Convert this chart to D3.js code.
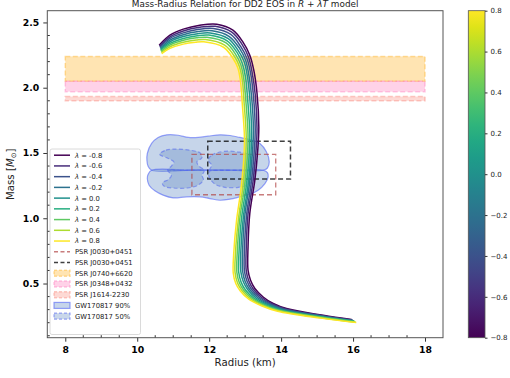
<!DOCTYPE html>
<html><head><meta charset="utf-8">
<script src="https://cdn.jsdelivr.net/npm/d3@7"></script>
<style>body{margin:0;background:#fff} svg{display:block;font-family:"DejaVu Sans",sans-serif}</style>
</head><body><svg id="c" width="510" height="378"></svg>
<script>
// ---------------- DATA ----------------
const lambdas = [-0.8,-0.6,-0.4,-0.2,0.0,0.2,0.4,0.6,0.8];
const lambdaLabels = ["-0.8","-0.6","-0.4","-0.2","0.0","0.2","0.4","0.6","0.8"];
// [Radius km, Mass Msun] for each lambda
const mr_m08 = [[10.61,2.326],[10.91,2.403],[11.28,2.449],[11.74,2.479],[12.21,2.487],[12.66,2.441],[12.94,2.349],[13.13,2.249],[13.24,2.134],[13.33,1.958],[13.38,1.698],[13.35,1.521],[13.27,1.292],[13.13,1.039],[13.08,0.778],[13.08,0.602],[13.15,0.525],[13.27,0.462],[13.50,0.397],[13.78,0.347],[14.15,0.308],[15.17,0.257],[15.96,0.224]];
const mr_m06 = [[10.62,2.318],[10.91,2.390],[11.28,2.435],[11.73,2.463],[12.17,2.470],[12.63,2.425],[12.91,2.334],[13.09,2.237],[13.19,2.124],[13.28,1.948],[13.33,1.688],[13.30,1.512],[13.22,1.282],[13.08,1.032],[13.03,0.771],[13.03,0.599],[13.10,0.522],[13.22,0.460],[13.45,0.395],[13.74,0.345],[14.12,0.306],[15.16,0.254],[15.98,0.221]];
const mr_m04 = [[10.63,2.310],[10.91,2.378],[11.28,2.420],[11.71,2.447],[12.12,2.453],[12.60,2.408],[12.87,2.318],[13.05,2.224],[13.15,2.113],[13.23,1.938],[13.28,1.679],[13.25,1.502],[13.17,1.273],[13.04,1.024],[12.98,0.764],[12.98,0.597],[13.05,0.519],[13.17,0.458],[13.40,0.393],[13.70,0.343],[14.09,0.303],[15.15,0.252],[15.99,0.218]];
const mr_m02 = [[10.64,2.302],[10.91,2.365],[11.28,2.406],[11.70,2.430],[12.08,2.436],[12.56,2.392],[12.84,2.303],[13.01,2.212],[13.10,2.103],[13.18,1.928],[13.23,1.669],[13.20,1.493],[13.12,1.263],[12.99,1.017],[12.93,0.756],[12.93,0.594],[13.00,0.516],[13.12,0.456],[13.35,0.391],[13.66,0.341],[14.06,0.301],[15.14,0.249],[16.01,0.215]];
const mr_p00 = [[10.65,2.294],[10.91,2.352],[11.28,2.392],[11.68,2.414],[12.03,2.420],[12.53,2.376],[12.80,2.288],[12.97,2.200],[13.06,2.092],[13.13,1.918],[13.18,1.659],[13.16,1.483],[13.08,1.254],[12.95,1.010],[12.88,0.749],[12.88,0.591],[12.95,0.513],[13.07,0.454],[13.30,0.389],[13.62,0.339],[14.03,0.298],[15.14,0.246],[16.03,0.213]];
const mr_p02 = [[10.65,2.286],[10.91,2.339],[11.28,2.377],[11.67,2.398],[11.99,2.403],[12.50,2.359],[12.77,2.272],[12.92,2.187],[13.01,2.082],[13.07,1.908],[13.13,1.649],[13.11,1.474],[13.03,1.244],[12.90,1.002],[12.83,0.742],[12.82,0.588],[12.89,0.509],[13.01,0.451],[13.25,0.386],[13.57,0.336],[13.99,0.296],[15.13,0.243],[16.04,0.210]];
const mr_p04 = [[10.66,2.278],[10.91,2.327],[11.28,2.363],[11.65,2.382],[11.94,2.386],[12.47,2.343],[12.73,2.257],[12.88,2.175],[12.96,2.071],[13.02,1.898],[13.08,1.640],[13.06,1.464],[12.98,1.234],[12.85,0.995],[12.78,0.735],[12.77,0.586],[12.84,0.506],[12.96,0.449],[13.20,0.384],[13.53,0.334],[13.96,0.293],[15.12,0.241],[16.06,0.207]];
const mr_p06 = [[10.67,2.270],[10.91,2.314],[11.28,2.348],[11.64,2.365],[11.90,2.369],[12.43,2.326],[12.70,2.241],[12.84,2.162],[12.92,2.061],[12.97,1.888],[13.03,1.630],[13.01,1.455],[12.93,1.225],[12.81,0.987],[12.73,0.727],[12.72,0.583],[12.79,0.503],[12.91,0.447],[13.15,0.382],[13.49,0.332],[13.93,0.291],[15.11,0.238],[16.07,0.204]];
const mr_p08 = [[10.68,2.262],[10.91,2.301],[11.28,2.334],[11.62,2.349],[11.85,2.352],[12.40,2.310],[12.66,2.226],[12.80,2.150],[12.87,2.050],[12.92,1.878],[12.98,1.620],[12.96,1.445],[12.88,1.215],[12.76,0.980],[12.68,0.720],[12.67,0.580],[12.74,0.500],[12.86,0.445],[13.10,0.380],[13.45,0.330],[13.90,0.288],[15.10,0.235],[16.09,0.201]];
const mrCurves = [mr_m08,mr_m06,mr_m04,mr_m02,mr_p00,mr_p02,mr_p04,mr_p06,mr_p08];

// Pulsar mass bands [low, high]
const bandNames = ["PSR J0740+6620","PSR J0348+0432","PSR J1614-2230"];
const bandLow  = [2.05, 1.97, 1.900];
const bandHigh = [2.24, 2.05, 1.932];
const bandRadius = [8, 18];

// NICER J0030+0451 boxes
const nicerNames = ["PSR J0030+0451","PSR J0030+0451"];
const nicerR = [[11.52,13.85],[11.96,14.26]];
const nicerM = [[1.18,1.49],[1.30,1.59]];

// GW170817 contours (R, M)
const gw90_upper = [[10.40,1.368],[10.30,1.400],[10.27,1.440],[10.28,1.496],[10.40,1.573],[10.58,1.619],[10.82,1.639],[11.14,1.636],[11.42,1.619],[11.70,1.619],[11.97,1.629],[12.30,1.639],[12.58,1.634],[12.85,1.619],[13.13,1.603],[13.41,1.573],[13.59,1.509],[13.67,1.432],[13.62,1.385],[13.50,1.368],[12.50,1.368],[11.50,1.368]];
const gw90_lower = [[10.40,1.368],[10.30,1.335],[10.28,1.304],[10.33,1.253],[10.49,1.210],[10.72,1.177],[11.00,1.156],[11.37,1.164],[11.74,1.164],[12.02,1.151],[12.30,1.138],[12.58,1.146],[12.85,1.164],[13.13,1.184],[13.36,1.215],[13.55,1.266],[13.64,1.317],[13.62,1.350],[13.50,1.368],[12.50,1.368],[11.50,1.368]];
const gw50_ul = [[10.62,1.490],[10.80,1.522],[11.10,1.530],[11.45,1.522],[11.75,1.500],[11.80,1.465],[11.66,1.432],[11.72,1.398],[11.86,1.372],[11.30,1.368],[10.85,1.370],[10.95,1.400],[11.02,1.430],[10.85,1.460]];
const gw50_ur = [[11.97,1.445],[12.07,1.483],[12.25,1.504],[12.53,1.514],[12.85,1.506],[13.08,1.491],[13.22,1.445],[13.27,1.407],[13.18,1.373],[12.67,1.368],[12.30,1.368],[12.02,1.373],[12.07,1.407]];
const gw50_ll = [[10.85,1.366],[11.30,1.366],[11.86,1.362],[11.80,1.330],[11.84,1.295],[11.70,1.255],[11.40,1.232],[11.00,1.232],[10.75,1.245],[10.70,1.270],[10.88,1.300],[10.95,1.330]];
const gw50_lr = [[12.02,1.362],[12.30,1.366],[12.67,1.366],[13.20,1.362],[13.27,1.330],[13.22,1.292],[13.08,1.255],[12.81,1.237],[12.44,1.237],[12.16,1.262],[12.02,1.304],[11.98,1.340]];

const xTicks = [8,10,12,14,16,18];
const yTicks = [0.5,1.0,1.5,2.0,2.5];
const cbTicks = [-0.8,-0.6,-0.4,-0.2,0.0,0.2,0.4,0.6,0.8];

// ---------------- DRAW ----------------
const svg = d3.select("#c");
const L=47.3, R=443, T=10.7, B=337.7;
const x = d3.scaleLinear().domain([7.5,18.5]).range([L,R]);
const y = d3.scaleLinear().domain([0.085,2.59]).range([B,T]);
const color = d3.scaleSequential(d3.interpolateViridis).domain([-0.8,0.8]);

const bandFill = ["rgba(255,165,0,0.3)","rgba(255,105,180,0.3)","rgba(250,128,114,0.3)"];
const bandStroke = ["rgba(255,165,0,0.35)","rgba(255,105,180,0.35)","rgba(250,128,114,0.4)"];
const nicerStroke = ["rgba(178,70,70,0.7)","rgba(0,0,0,0.75)"];
const nicerWidth = [1.3,1.5];
const gw90Fill = "rgba(120,155,205,0.42)", gw90Stroke = "rgba(70,90,245,0.55)";
const gw50Fill = "rgba(100,140,195,0.35)", gw50Stroke = "rgba(80,100,240,0.55)";

svg.append("defs").append("clipPath").attr("id","clip").append("rect")
  .attr("x",L).attr("y",T).attr("width",R-L).attr("height",B-T);
const plot = svg.append("g").attr("clip-path","url(#clip)");

// bands
bandNames.forEach((n,i)=>{
  plot.append("rect").attr("x",x(bandRadius[0])).attr("width",x(bandRadius[1])-x(bandRadius[0]))
    .attr("y",y(bandHigh[i])).attr("height",y(bandLow[i])-y(bandHigh[i]))
    .attr("fill",bandFill[i]).attr("stroke",bandStroke[i]).attr("stroke-width",1.5)
    .attr("stroke-dasharray","5,2.5");
});

// GW contours
const blob = d3.line().x(d=>x(d[0])).y(d=>y(d[1])).curve(d3.curveCatmullRomClosed.alpha(0.5));
[gw90_upper,gw90_lower].forEach(p=>{
  plot.append("path").attr("d",blob(p)).attr("fill",gw90Fill).attr("stroke",gw90Stroke).attr("stroke-width",1.2);
});
[gw50_ul,gw50_ur,gw50_ll,gw50_lr].forEach(p=>{
  plot.append("path").attr("d",blob(p)).attr("fill",gw50Fill).attr("stroke",gw50Stroke).attr("stroke-width",1.2)
    .attr("stroke-dasharray","4,2.5");
});

// NICER boxes
nicerNames.forEach((n,i)=>{
  plot.append("rect").attr("x",x(nicerR[i][0])).attr("width",x(nicerR[i][1])-x(nicerR[i][0]))
    .attr("y",y(nicerM[i][1])).attr("height",y(nicerM[i][0])-y(nicerM[i][1]))
    .attr("fill","none").attr("stroke",nicerStroke[i]).attr("stroke-width",nicerWidth[i])
    .attr("stroke-dasharray","5,3");
});

// M-R curves
const line = d3.line().x(d=>x(d[0])).y(d=>y(d[1])).curve(d3.curveCatmullRom.alpha(0.5));
mrCurves.forEach((c,i)=>{
  plot.append("path").attr("d",line(c)).attr("fill","none").attr("stroke",color(lambdas[i]))
    .attr("stroke-width",1.5);
});

// Axes
const xAx = svg.append("g").attr("transform",`translate(0,${B})`)
  .call(d3.axisBottom(x).tickValues(xTicks).tickFormat(d3.format("d")).tickSize(4).tickPadding(5));
const yAx = svg.append("g").attr("transform",`translate(${L},0)`)
  .call(d3.axisLeft(y).tickValues(yTicks).tickFormat(d3.format(".1f")).tickSize(4).tickPadding(4));
[xAx,yAx].forEach(a=>{
  a.select(".domain").remove();
  a.selectAll("text").attr("font-size",9.3).attr("font-weight","bold").attr("fill","#000")
    .attr("font-family","DejaVu Sans");
  a.selectAll(".tick line").attr("stroke","#333");
});
// minor ticks (inward)
const xMinor = d3.range(8.5,18.01,0.5).filter(v=>Math.abs(v-Math.round(v/2)*2)>1e-6);
svg.append("g").selectAll("line").data(xMinor).join("line")
  .attr("x1",d=>x(d)).attr("x2",d=>x(d)).attr("y1",B).attr("y2",B-2.5).attr("stroke","#333");
const yMinor = d3.range(1,26).map(v=>v/10).filter(v=>Math.abs(v*2-Math.round(v*2))>1e-6);
svg.append("g").selectAll("line").data(yMinor).join("line")
  .attr("y1",d=>y(d)).attr("y2",d=>y(d)).attr("x1",L).attr("x2",L+2.5).attr("stroke","#333");
// frame
svg.append("rect").attr("x",L).attr("y",T).attr("width",R-L).attr("height",B-T)
  .attr("fill","none").attr("stroke","#555").attr("stroke-width",1);

// labels
svg.append("text").attr("x",(L+R)/2).attr("y",366).attr("text-anchor","middle")
  .attr("font-size",10.2).attr("fill","#222").text("Radius (km)");
const yl = svg.append("text").attr("transform",`translate(14,${(T+B)/2}) rotate(-90)`)
  .attr("text-anchor","middle").attr("font-size",10.2).attr("fill","#222");
yl.append("tspan").text("Mass [");
yl.append("tspan").attr("font-style","italic").text("M");
yl.append("tspan").attr("font-size",7).attr("dy",2).text("⊙");
yl.append("tspan").attr("dy",-2).text("]");
const tt = svg.append("text").attr("x",(L+R)/2).attr("y",6.5).attr("text-anchor","middle")
  .attr("font-size",8.9).attr("fill","#222");
tt.append("tspan").text("Mass-Radius Relation for DD2 EOS in ");
tt.append("tspan").attr("font-style","italic").text("R");
tt.append("tspan").text(" + ");
tt.append("tspan").attr("font-style","italic").text("λT");
tt.append("tspan").text(" model");

// Colorbar
const cbX=468.3, cbW=16.7;
const cy = d3.scaleLinear().domain([-0.8,0.8]).range([B,T]);
const grad = svg.select("defs").append("linearGradient").attr("id","vir")
  .attr("x1",0).attr("y1",1).attr("x2",0).attr("y2",0);
d3.range(0,1.0001,0.05).forEach(t=>{
  grad.append("stop").attr("offset",t).attr("stop-color",d3.interpolateViridis(t));
});
svg.append("rect").attr("x",cbX).attr("y",T).attr("width",cbW).attr("height",B-T)
  .attr("fill","url(#vir)").attr("stroke","#555").attr("stroke-width",0.8);
const cbAx = svg.append("g").attr("transform",`translate(${cbX+cbW},0)`)
  .call(d3.axisRight(cy).tickValues(cbTicks).tickFormat(d=>d3.format(".1f")(d).replace("-","−")).tickSize(2.5).tickPadding(3));
cbAx.select(".domain").remove();
cbAx.selectAll("text").attr("font-size",7).attr("fill","#222").attr("font-family","DejaVu Sans");
cbAx.selectAll(".tick line").attr("stroke","#333");

// Legend
const lg = svg.append("g");
const lgX=50, lgY=149, lgW=90.5, lgH=185.5;
lg.append("rect").attr("x",lgX).attr("y",lgY).attr("width",lgW).attr("height",lgH).attr("rx",2)
  .attr("fill","rgba(255,255,255,0.85)").attr("stroke","#d0d0d0").attr("stroke-width",0.8);
const rowY = i => 155.2 + i*10.73;
const hx0=54, hx1=70, tx=75, fs=6.8;
lambdas.forEach((l,i)=>{
  lg.append("line").attr("x1",hx0).attr("x2",hx1).attr("y1",rowY(i)).attr("y2",rowY(i))
    .attr("stroke",color(l)).attr("stroke-width",1.5);
  const t = lg.append("text").attr("x",tx).attr("y",rowY(i)).attr("dy","0.35em").attr("font-size",fs).attr("fill","#222");
  t.append("tspan").attr("font-style","italic").text("λ");
  t.append("tspan").text("  = "+lambdaLabels[i]);
});
nicerNames.forEach((n,i)=>{
  const r = 9+i;
  lg.append("line").attr("x1",hx0).attr("x2",hx1).attr("y1",rowY(r)).attr("y2",rowY(r))
    .attr("stroke",nicerStroke[i]).attr("stroke-width",nicerWidth[i]).attr("stroke-dasharray","4,2.5");
  lg.append("text").attr("x",tx).attr("y",rowY(r)).attr("dy","0.35em").attr("font-size",fs).attr("fill","#222").text(n);
});
bandNames.forEach((n,i)=>{
  const r = 11+i;
  lg.append("rect").attr("x",hx0).attr("y",rowY(r)-3).attr("width",hx1-hx0).attr("height",6)
    .attr("fill",bandFill[i]).attr("stroke",bandStroke[i]).attr("stroke-width",1.5).attr("stroke-dasharray","3,2");
  lg.append("text").attr("x",tx).attr("y",rowY(r)).attr("dy","0.35em").attr("font-size",fs).attr("fill","#222").text(n);
});
const gwNames = ["GW170817 90%","GW170817 50%"];
gwNames.forEach((n,i)=>{
  const r = 14+i;
  lg.append("rect").attr("x",hx0).attr("y",rowY(r)-3).attr("width",hx1-hx0).attr("height",6)
    .attr("fill",i?gw50Fill:gw90Fill).attr("stroke",i?gw50Stroke:gw90Stroke).attr("stroke-width",1.2)
    .attr("stroke-dasharray",i?"3,2":null);
  lg.append("text").attr("x",tx).attr("y",rowY(r)).attr("dy","0.35em").attr("font-size",fs).attr("fill","#222").text(n);
});
</script></body></html>
